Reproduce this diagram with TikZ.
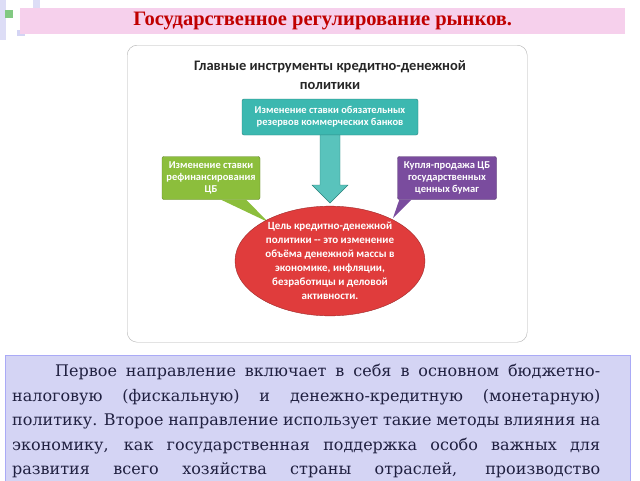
\documentclass[tikz,border=0pt]{standalone}
\usepackage{fontspec}
\setmainfont{Liberation Serif}
\newfontfamily\carl{Carlito}
\newfontfamily\bodyf{DejaVu Serif}
\usetikzlibrary{shapes.geometric}
\definecolor{titlered}{HTML}{C00000}
\definecolor{pinkbar}{HTML}{F6D0EC}
\definecolor{lav}{HTML}{D4D4F4}
\definecolor{tealc}{HTML}{3CB8B0}
\definecolor{greenc}{HTML}{8CBE3C}
\definecolor{purplec}{HTML}{7A4C9E}
\definecolor{redc}{HTML}{E03C3C}
\definecolor{bodyc}{HTML}{202040}
\tikzset{
  ibox/.style={draw=#1!70!black, fill=#1, rounded corners=2pt, text=white, font=\carl\bfseries\fontsize{10.5}{12}\selectfont, align=center, inner sep=1pt},
  bline/.style={anchor=west, text=bodyc, font=\bodyf\fontsize{16}{18}\selectfont, inner sep=0},
}
\newcommand{\jl}[1]{\makebox[588pt][s]{#1}}
\begin{document}
\begin{tikzpicture}[x=1pt,y=-1pt]
\useasboundingbox (0,0) rectangle (640,480);
\fill[white] (0,0) rectangle (640,480);
% decorations
\fill[lav!80] (33,0) rectangle (40,12);
\fill[lav!80] (0,0) rectangle (6,40);
\fill[gray!60!green!70] (5,10) rectangle (13,18);
\fill[lav] (17,30) rectangle (25,36);
% title bar
\node[fill=pinkbar, minimum width=605, minimum height=26, anchor=north west, inner sep=0] (bar) at (20,8) {};
\node[text=titlered, font=\bfseries\fontsize{20.5}{22}\selectfont] (title) at (bar.center) {Государственное регулирование рынков.};
% diagram frame
\node[draw=gray!60, fill=white, rounded corners=10pt, minimum width=400, minimum height=297, anchor=north west, inner sep=0] (frame) at (127,45) {};
\node[font=\carl\bfseries\fontsize{14.5}{19}\selectfont, align=center, text=black!85] (dtitle) at (330,75) {Главные инструменты кредитно-денежной\\политики};
\node[ibox=tealc, minimum width=176, minimum height=36] (teal) at (330,117) {Изменение ставки обязательных\\резервов коммерческих банков};
\node[ibox=greenc, minimum width=98, minimum height=43] (green) at (211,178) {Изменение ставки\\рефинансирования\\ЦБ};
\node[ibox=purplec, minimum width=99, minimum height=43] (purple) at (447,178) {Купля-продажа ЦБ\\государственных\\ценных бумаг};
% callout tails
\fill[greenc] ([xshift=10]green.south) -- ([xshift=-14]green.south east) -- (268,222) -- cycle;
\fill[purplec] ([xshift=2]purple.south west) -- ([xshift=14]purple.south west) -- (393,218) -- cycle;
% arrow
\coordinate (atip) at (330,203);
\fill[tealc!85, draw=tealc!70!black] (320,135) -- (340,135) -- (340,185) -- (348,185) -- (atip) -- (312,185) -- (320,185) -- cycle;
% ellipse
\node[ellipse, draw=redc!70!black, fill=redc, minimum width=190, minimum height=102, inner sep=0, text=white, font=\carl\bfseries\fontsize{11}{14}\selectfont, align=center] (goal) at (330,261) {Цель кредитно-денежной\\политики -- это изменение\\объёма денежной массы в\\экономике, инфляции,\\безработицы и деловой\\активности.};
% text box
\node[draw=lav!80!blue, fill=lav, minimum width=625, minimum height=140, anchor=north west, inner sep=0] (tbox) at (5,355) {};
\node[bline] (l1) at (55,372) {\makebox[545pt][s]{Первое направление включает в себя в основном бюджетно-}};
\node[bline] (l2) at (12,397) {\jl{налоговую (фискальную) и денежно-кредитную (монетарную)}};
\node[bline] (l3) at (12,421) {\jl{политику. Второе направление использует такие методы влияния на}};
\node[bline] (l4) at (12,446) {\jl{экономику, как государственная поддержка особо важных для}};
\node[bline] (l5) at (12,470) {\jl{развития всего хозяйства страны отраслей, производство}};
\node[bline] (l6) at (12,495) {\jl{общественных благ, защита окружающей среды и т.д.}};
\end{tikzpicture}
\end{document}
